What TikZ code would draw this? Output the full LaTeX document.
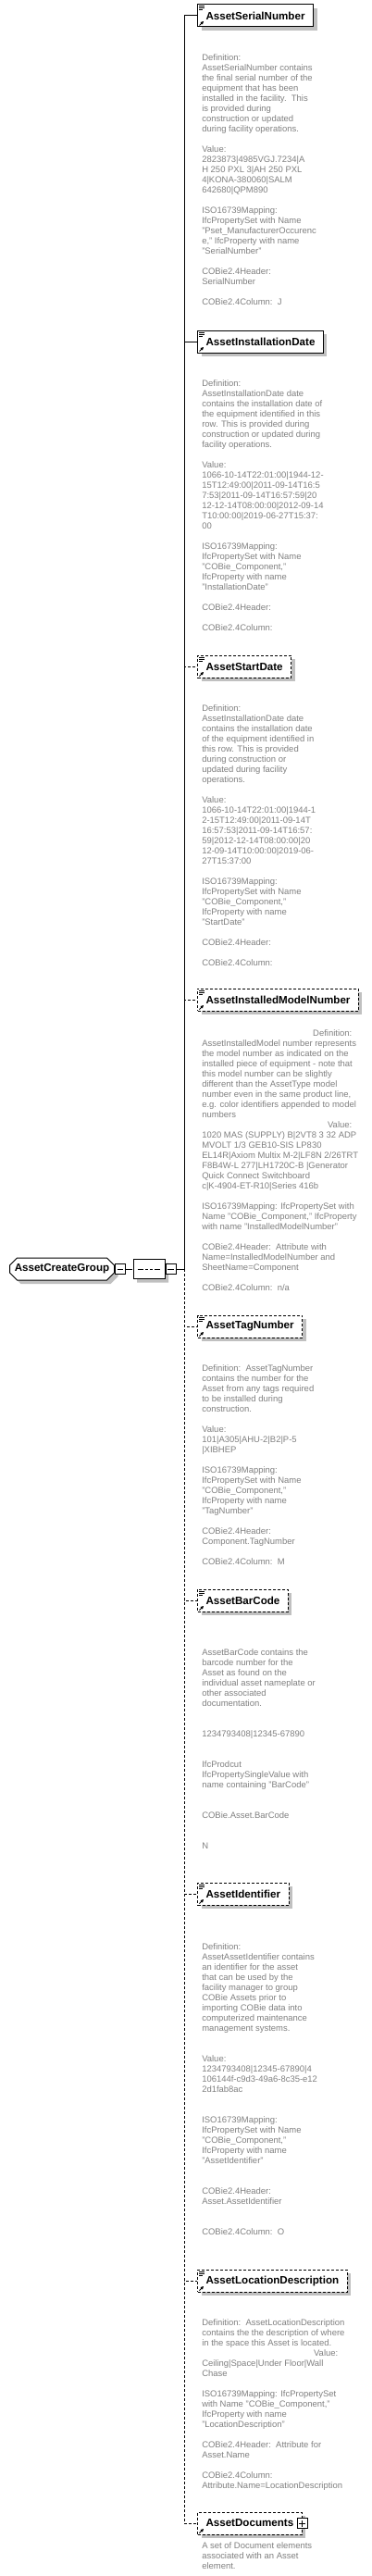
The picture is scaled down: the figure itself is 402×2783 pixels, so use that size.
\documentclass[tikz,border=0pt]{standalone}
\usepackage{fontspec}
\setmainfont{Liberation Sans}
\usetikzlibrary{shapes.misc,shadows,arrows.meta}
\definecolor{acgGrey}{RGB}{128,128,128}
\definecolor{acgShadow}{RGB}{192,192,192}
\newcommand{\acgdoc}{%
  \draw[solid,line width=0.75pt]
    ([shift={(1.5,2)}]path picture bounding box.north west) -- ++(5.5,0)
    ([shift={(1.5,4)}]path picture bounding box.north west) -- ++(5.5,0)
    ([shift={(1.5,6)}]path picture bounding box.north west) -- ++(4,0);}
\newcommand{\acgref}{%
  \draw[solid,line width=0.75pt,-{Triangle[length=2.4pt,width=2.4pt]}]
    ([shift={(2,-1.5)}]path picture bounding box.south west) -- ++(4.5,-4.5);}
\newcommand{\acgminus}{%
  \draw[solid,line width=0.75pt]
    ([xshift=-2.6pt]path picture bounding box.center) -- ([xshift=2.6pt]path picture bounding box.center);}
\newcommand{\acgplus}{%
  \acgminus
  \draw[solid,line width=0.75pt]
    ([yshift=-2.6pt]path picture bounding box.center) -- ([yshift=2.6pt]path picture bounding box.center);}
\newcommand{\acgseq}{%
  \draw[line width=0.75pt]
    ([xshift=-9.2pt]path picture bounding box.center) -- ([xshift=9.2pt]path picture bounding box.center);
  \foreach \k in {-3.75,0,3.75}
    \fill ([xshift=\k pt]path picture bounding box.center) +(-1.1pt,-1.1pt) rectangle +(1.1pt,1.1pt);}

\begin{document}
\begin{tikzpicture}[x=0.75pt,y=-0.75pt]
        \tikzset{
        acg shadow/.style={drop shadow={shadow xshift=3pt,shadow yshift=-3pt,fill=acgShadow,draw=none,opacity=1,path picture={}}},
        acg box/.style={draw,fill=white,line width=0.75pt,anchor=west,minimum height=18pt,
          inner xsep=6.75pt,inner ysep=0pt,font=\fontsize{8.7}{10}\selectfont\bfseries,acg shadow},
        acg elem/.style={acg box,path picture={\acgdoc\acgref}},
        acg elemref/.style={acg box,path picture={\acgref}},
        acg dash/.style={dash pattern=on 2.25pt off 1.5pt},
        acg text/.style={anchor=north west,inner sep=0pt,align=left,text=acgGrey,
          font=\fontsize{7.1}{8.25}\selectfont},
        acg group/.style={chamfered rectangle,chamfered rectangle xsep=3pt,chamfered rectangle ysep=3pt,
          draw,fill=white,line width=0.75pt,anchor=west,minimum width=84.75pt,minimum height=18pt,
          inner sep=0pt,font=\fontsize{8.7}{10}\selectfont\bfseries,acg shadow},
        acg seq/.style={chamfered rectangle,chamfered rectangle xsep=3pt,chamfered rectangle ysep=5pt,
          draw,fill=white,line width=0.75pt,minimum width=25.5pt,minimum height=15.75pt,inner sep=0pt,
          acg shadow,path picture={\acgseq}},
        acg minus/.style={draw,fill=white,line width=0.75pt,anchor=west,minimum size=8.25pt,
          inner sep=0pt,path picture={\acgminus}},
        acg plus/.style={draw,fill=white,line width=0.75pt,minimum size=8.25pt,
          inner sep=0pt,path picture={\acgplus}},
        acg line/.style={line width=0.75pt},
        acg link/.style={to path={|- (\tikztotarget)}}
        }
        \useasboundingbox (0,0) rectangle (402,2783);

        \node[acg group] (grp) at (10,1371) {AssetCreateGroup};
        \node[acg minus] (gm) at (grp.east) {};
        \node[acg seq] (seq) at (161,1371) {};
        \node[acg minus] (sm) at (seq.east) {};
        \coordinate (jn) at (199,1371);

        \node[acg elem] (n1) at (213,17) {AssetSerialNumber};
        \node[acg elem] (n2) at (213,369) {AssetInstallationDate};
        \node[acg elem,acg dash] (n3) at (213,720) {AssetStartDate};
        \node[acg elem,acg dash] (n4) at (213,1080) {AssetInstalledModelNumber};
        \node[acg elem,acg dash] (n5) at (213,1433) {AssetTagNumber};
        \node[acg elem,acg dash] (n6) at (213,1729) {AssetBarCode};
        \node[acg elem,acg dash] (n7) at (213,2046) {AssetIdentifier};
        \node[acg elem,acg dash] (n8) at (213,2464) {AssetLocationDescription};
        \node[acg elemref,acg dash] (n9) at (213,2726) {AssetDocuments\hspace{2.25pt}};
        \node[acg plus] (dp) at (n9.east) {};

        \node[acg text] (d1) at (218,58.5) {Definition:\\
          AssetSerialNumber contains\\
          the final serial number of the\\
          equipment that has been\\
          installed in the facility.~~This\\
          is provided during\\
          construction or updated\\
          during facility operations.\\[8.25pt]
          Value:\\
          2823873|4985VGJ.7234|A\\
          H 250 PXL 3|AH 250 PXL\\
          4|KONA-380060|SALM\\
          642680|QPM890\\[8.25pt]
          ISO16739Mapping:\\
          IfcPropertySet with Name\\
          "Pset\_ManufacturerOccurenc\\
          e," IfcProperty with name\\
          "SerialNumber"\\[8.25pt]
          COBie2.4Header:\\
          SerialNumber\\[8.25pt]
          COBie2.4Column:~~J};
        \node[acg text] (d2) at (218,410.5) {Definition:\\
          AssetInstallationDate date\\
          contains the installation date of\\
          the equipment identified in this\\
          row. This is provided during\\
          construction or updated during\\
          facility operations.\\[8.25pt]
          Value:\\
          1066-10-14T22:01:00|1944-12-\\
          15T12:49:00|2011-09-14T16:5\\
          7:53|2011-09-14T16:57:59|20\\
          12-12-14T08:00:00|2012-09-14\\
          T10:00:00|2019-06-27T15:37:\\
          00\\[8.25pt]
          ISO16739Mapping:\\
          IfcPropertySet with Name\\
          "COBie\_Component,"\\
          IfcProperty with name\\
          "InstallationDate"\\[8.25pt]
          COBie2.4Header:\\[8.25pt]
          COBie2.4Column:};
        \node[acg text] (d3) at (218,761.5) {Definition:\\
          AssetInstallationDate date\\
          contains the installation date\\
          of the equipment identified in\\
          this row. This is provided\\
          during construction or\\
          updated during facility\\
          operations.\\[8.25pt]
          Value:\\
          1066-10-14T22:01:00|1944-1\\
          2-15T12:49:00|2011-09-14T\\
          16:57:53|2011-09-14T16:57:\\
          59|2012-12-14T08:00:00|20\\
          12-09-14T10:00:00|2019-06-\\
          27T15:37:00\\[8.25pt]
          ISO16739Mapping:\\
          IfcPropertySet with Name\\
          "COBie\_Component,"\\
          IfcProperty with name\\
          "StartDate"\\[8.25pt]
          COBie2.4Header:\\[8.25pt]
          COBie2.4Column:};
        \node[acg text] (d4) at (218,1112.5) {\makebox[121.5pt][r]{Definition:}\\
          AssetInstalledModel number represents\\
          the model number as indicated on the\\
          installed piece of equipment - note that\\
          this model number can be slightly\\
          different than the AssetType model\\
          number even in the same product line,\\
          e.g. color identifiers appended to model\\
          numbers\\
          \makebox[121.5pt][r]{Value:}\\
          1020 MAS (SUPPLY) B|2VT8 3 32 ADP\\
          MVOLT 1/3 GEB10-SIS LP830\\
          EL14R|Axiom Multix M-2|LF8N 2/26TRT\\
          F8B4W-L 277|LH1720C-B |Generator\\
          Quick Connect Switchboard\\
          c|K-4904-ET-R10|Series 416b\\[8.25pt]
          ISO16739Mapping: IfcPropertySet with\\
          Name "COBie\_Component," IfcProperty\\
          with name "InstalledModelNumber"\\[8.25pt]
          COBie2.4Header:~~Attribute with\\
          Name=InstalledModelNumber and\\
          SheetName=Component\\[8.25pt]
          COBie2.4Column:~~n/a};
        \node[acg text] (d5) at (218,1474.5) {Definition:~~AssetTagNumber\\
          contains the number for the\\
          Asset from any tags required\\
          to be installed during\\
          construction.\\[8.25pt]
          Value:\\
          101|A305|AHU-2|B2|P-5\\
          |XIBHEP\\[8.25pt]
          ISO16739Mapping:\\
          IfcPropertySet with Name\\
          "COBie\_Component,"\\
          IfcProperty with name\\
          "TagNumber"\\[8.25pt]
          COBie2.4Header:\\
          Component.TagNumber\\[8.25pt]
          COBie2.4Column:~~M};
        \node[acg text] (d6) at (218,1781.5) {AssetBarCode contains the\\
          barcode number for the\\
          Asset as found on the\\
          individual asset nameplate or\\
          other associated\\
          documentation.\\[16.5pt]
          1234793408|12345-67890\\[16.5pt]
          IfcProdcut\\
          IfcPropertySingleValue with\\
          name containing "BarCode"\\[16.5pt]
          COBie.Asset.BarCode\\[16.5pt]
          N};
        \node[acg text] (d7) at (218,2099.5) {Definition:\\
          AssetAssetIdentifier contains\\
          an identifier for the asset\\
          that can be used by the\\
          facility manager to group\\
          COBie Assets prior to\\
          importing COBie data into\\
          computerized maintenance\\
          management systems.\\[16.5pt]
          Value:\\
          1234793408|12345-67890|4\\
          106144f-c9d3-49a6-8c35-e12\\
          2d1fab8ac\\[16.5pt]
          ISO16739Mapping:\\
          IfcPropertySet with Name\\
          "COBie\_Component,"\\
          IfcProperty with name\\
          "AssetIdentifier"\\[16.5pt]
          COBie2.4Header:\\
          Asset.AssetIdentifier\\[16.5pt]
          COBie2.4Column:~~O};
        \node[acg text] (d8) at (218,2505.5) {Definition:~~AssetLocationDescription\\
          contains the the description of where\\
          in the space this Asset is located.\\
          \makebox[110.25pt][r]{Value:}\\
          Ceiling|Space|Under Floor|Wall\\
          Chase\\[8.25pt]
          ISO16739Mapping: IfcPropertySet\\
          with Name "COBie\_Component,"\\
          IfcProperty with name\\
          "LocationDescription"\\[8.25pt]
          COBie2.4Header:~~Attribute for\\
          Asset.Name\\[8.25pt]
          COBie2.4Column:\\
          Attribute.Name=LocationDescription};
        \node[acg text] (d9) at (218,2746.5) {A set of Document elements\\
          associated with an Asset\\
          element.};

        \path[draw,acg line]
        (gm) edge (seq)
        (sm) edge (jn)
        (jn) edge[acg link] (n1.west)
        (jn) edge[acg link] (n2.west)
        (jn) edge[acg link,acg dash] (n3.west)
        (jn) edge[acg link,acg dash] (n4.west)
        (jn) edge[acg link,acg dash] (n5.west)
        (jn) edge[acg link,acg dash] (n6.west)
        (jn) edge[acg link,acg dash] (n7.west)
        (jn) edge[acg link,acg dash] (n8.west)
        (jn) edge[acg link,acg dash] (n9.west)
        ;
    \end{tikzpicture}
\end{document}
